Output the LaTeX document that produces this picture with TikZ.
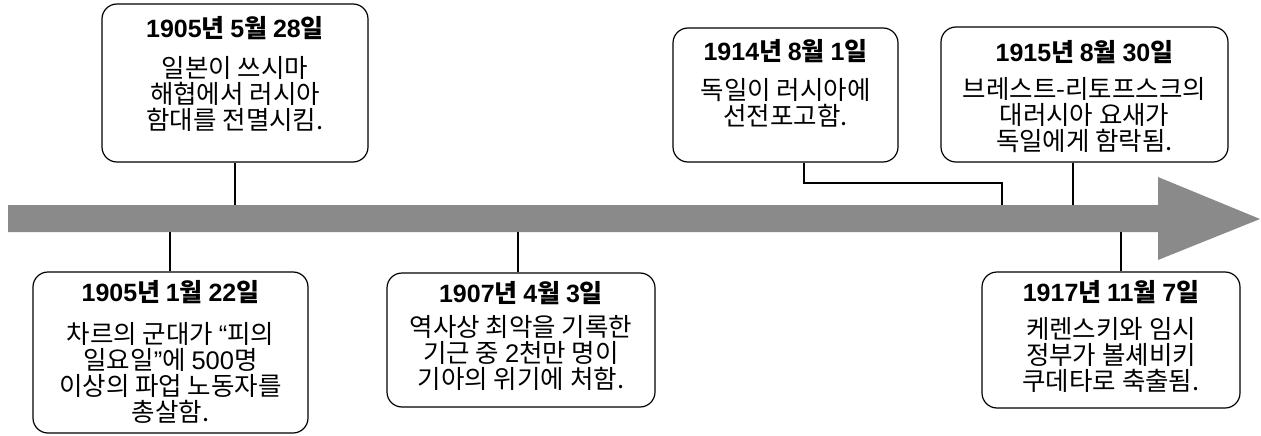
\documentclass[tikz,border=0pt]{standalone}
\usepackage{fontspec}
\setmainfont{Noto Sans CJK KR}
\newfontfamily\lat{Liberation Sans}
\newcommand{\latn}[1]{{\lat #1}}
\begin{document}
\begin{tikzpicture}[x=1pt,y=-1pt,
  evbox/.style={draw=black, line width=1.2pt, rounded corners=15pt, fill=white},
  evtitle/.style={font=\fontsize{25}{26}\selectfont\bfseries, inner sep=0pt},
  evbody/.style={font=\fontsize{25.5}{26}\selectfont, align=center, inner sep=0pt},
  conn/.style={line width=2.2pt}]
\useasboundingbox (0,0) rectangle (1261,436);
% arrow
\fill[fill={rgb,255:red,138;green,138;blue,138}] (8,205) -- (1158,205) -- (1158,177) -- (1260,219) -- (1158,260) -- (1158,232) -- (8,232) -- cycle;
\coordinate (bartop) at (0,205);
\coordinate (barbot) at (0,232);
% boxes
\node[evbox, minimum width=266pt, minimum height=158pt] (b1) at (235,83) {};
\node[evbox, minimum width=225pt, minimum height=134pt] (b2) at (785.5,95) {};
\node[evbox, minimum width=287pt, minimum height=135pt] (b3) at (1084.5,94.5) {};
\node[evbox, minimum width=275pt, minimum height=161pt] (b4) at (170.5,352.5) {};
\node[evbox, minimum width=268pt, minimum height=134pt] (b5) at (521,340) {};
\node[evbox, minimum width=258pt, minimum height=136pt] (b6) at (1111,340) {};
% titles
\node[evtitle] (t1) at (235,28) {\latn{1905}년 \latn{5}월 \latn{28}일};
\node[evtitle] (t2) at (785.5,51) {\latn{1914}년 \latn{8}월 \latn{1}일};
\node[evtitle] (t3) at (1084.5,52) {\latn{1915}년 \latn{8}월 \latn{30}일};
\node[evtitle] (t4) at (170.5,292) {\latn{1905}년 \latn{1}월 \latn{22}일};
\node[evtitle] (t5) at (521,293.5) {\latn{1907}년 \latn{4}월 \latn{3}일};
\node[evtitle] (t6) at (1111,292.5) {\latn{1917}년 \latn{11}월 \latn{7}일};
% bodies
\node[evbody] (d1) at (235,94) {일본이 쓰시마\\해협에서 러시아\\함대를 전멸시킴.};
\node[evbody] (d2) at (785.5,102.5) {독일이 러시아에\\선전포고함.};
\node[evbody] (d3) at (1084.5,115.5) {브레스트-리토프스크의\\대러시아 요새가\\독일에게 함락됨.};
\node[evbody] (d4) at (170.5,372.5) {차르의 군대가 \latn{“}피의\\일요일\latn{”}에 \latn{500}명\\이상의 파업 노동자를\\총살함.};
\node[evbody] (d5) at (521,352.5) {역사상 최악을 기록한\\기근 중 \latn{2}천만 명이\\기아의 위기에 처함.};
\node[evbody] (d6) at (1111,355) {케렌스키와 임시\\정부가 볼셰비키\\쿠데타로 축출됨.};
% connectors
\draw[conn] (b1.south) -- (b1.south |- bartop);
\draw[conn] (b2.south -| 804,0) |- (1002,183) -- (1002,0 |- bartop);
\draw[conn] (b3.south -| 1073,0) -- (1073,0 |- bartop);
\draw[conn] (b4.north -| 170,0) -- (170,0 |- barbot);
\draw[conn] (b5.north -| 518,0) -- (518,0 |- barbot);
\draw[conn] (b6.north -| 1121,0) -- (1121,0 |- barbot);
\end{tikzpicture}
\end{document}
